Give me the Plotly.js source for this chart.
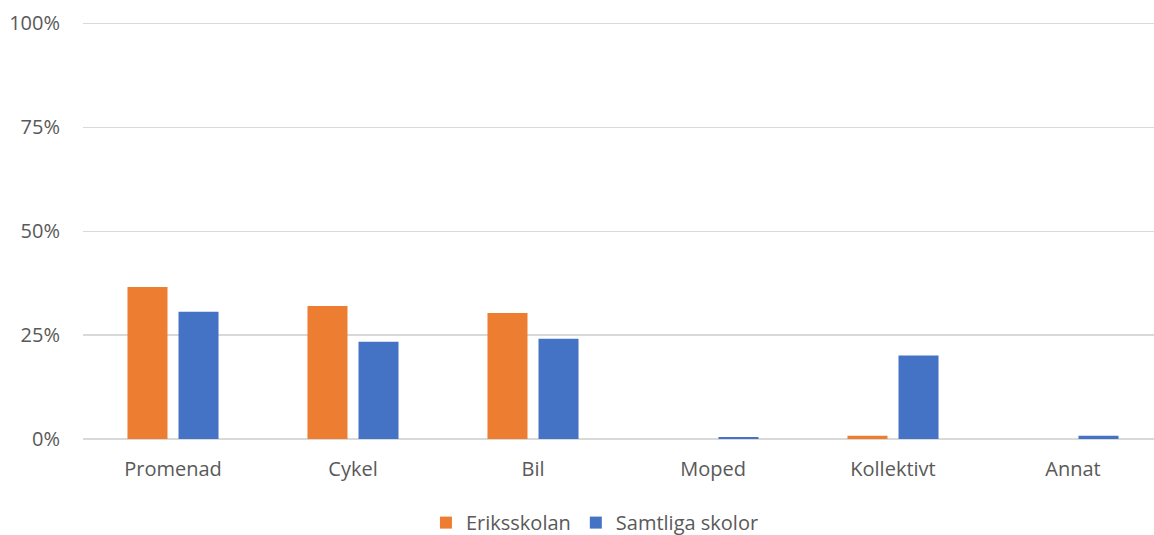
<!DOCTYPE html>
<html>
<head>
<meta charset="utf-8">
<script src="https://cdn.plot.ly/plotly-3.0.1.min.js"></script>
<style>html,body{margin:0;padding:0;background:#fff}#chart{width:1154px;height:535px}</style>
</head>
<body>
<div id="chart"></div>
<script>
const categories = ["Promenad", "Cykel", "Bil", "Moped", "Kollektivt", "Annat"];
const eriksskolan = [0.366, 0.320, 0.303, 0, 0.008, 0];
const samtliga = [0.306, 0.234, 0.241, 0.005, 0.201, 0.008];
const seriesNames = ["Eriksskolan", "Samtliga skolor"];
const yTickVals = [0, 0.25, 0.5, 0.75, 1];
const yTickText = ["0%", "25%", "50%", "75%", "100%"];

const font = "'Open Sans', sans-serif";
const data = [
  {type: "bar", name: seriesNames[0], x: categories, y: eriksskolan, marker: {color: "#ED7D31"}, hoverinfo: "none"},
  {type: "bar", name: seriesNames[1], x: categories, y: samtliga, marker: {color: "#4472C4"}, hoverinfo: "none"}
];
const layout = {
  width: 1154, height: 535,
  margin: {l: 83, r: 0, t: 20.5, b: 95.5, autoexpand: false},
  paper_bgcolor: "#fff", plot_bgcolor: "#fff",
  font: {family: font, size: 20, color: "#595959"},
  barmode: "group", bargap: 0.433, bargroupgap: 0.216,
  xaxis: {range: [-0.5, 5.45], automargin: false, showgrid: false, zeroline: false, showline: false, ticks: "", ticklabelstandoff: 16, tickfont: {size: 20, color: "#595959"}, fixedrange: true},
  yaxis: {range: [0, 1.006], automargin: false, tickvals: yTickVals, ticktext: yTickText, showgrid: true, gridcolor: "#d9d9d9", gridwidth: 1.5, zeroline: true, zerolinecolor: "#d9d9d9", zerolinewidth: 1.5, ticks: "", ticklabelstandoff: 22, tickfont: {size: 20, color: "#595959"}, fixedrange: true},
  showlegend: true,
  legend: {orientation: "h", x: 0.478, xanchor: "center", y: -0.2, yanchor: "middle", font: {size: 20, color: "#595959"}, itemwidth: 30, traceorder: "normal"}
};
Plotly.newPlot("chart", data, layout, {displayModeBar: false, staticPlot: true});
</script>
</body>
</html>
